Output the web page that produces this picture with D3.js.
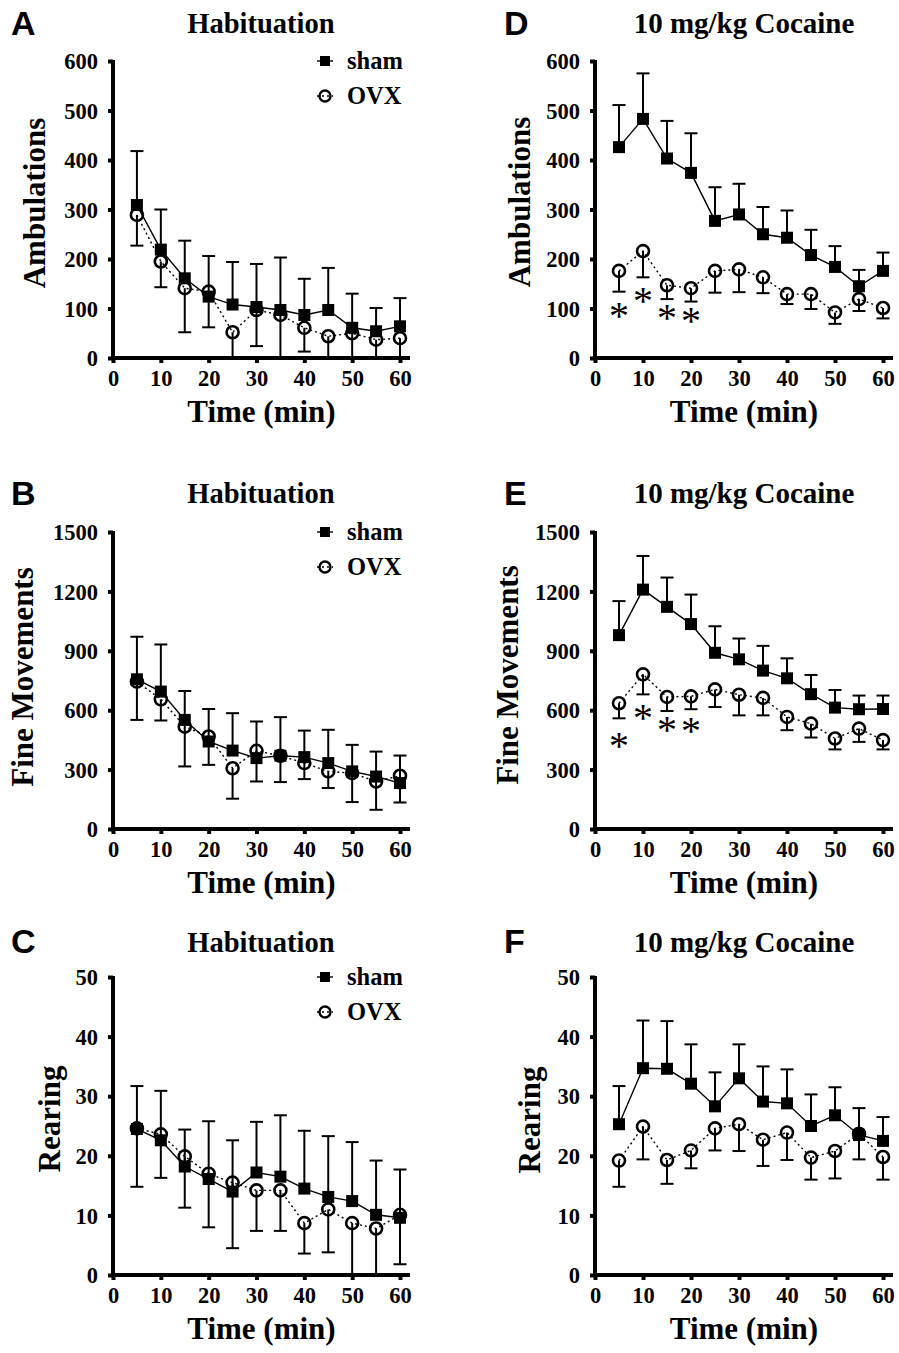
<!DOCTYPE html>
<html>
<head>
<meta charset="utf-8">
<script src="https://cdn.jsdelivr.net/npm/d3@7"></script>
<style>
body { margin: 0; background: #fff; }
</style>
</head>
<body>
<svg id="fig" width="899" height="1353"></svg>
<script>
// time bins (min)
var time = [5, 10, 15, 20, 25, 30, 35, 40, 45, 50, 55, 60]
var xTicks = [0, 10, 20, 30, 40, 50, 60]

// y tick labels
var ambTicks = [0, 100, 200, 300, 400, 500, 600]
var fineTicks = [0, 300, 600, 900, 1200, 1500]
var rearTicks = [0, 10, 20, 30, 40, 50]

// A - ambulations, habituation
var ambHabSham = [309, 219, 161, 124, 108, 103, 97, 87, 97, 61, 54, 64]
var ambHabShamErr = [109, 81, 76, 82, 86, 87, 106, 73, 85, 69, 47, 57]
var ambHabOvx = [289, 195, 141, 134, 52, 97, 87, 61, 44, 50, 37, 40]
var ambHabOvxErr = [62, 52, 89, 72, 60, 73, 95, 48, 50, 55, 45, 45]

// B - fine movements, habituation
var fineHabSham = [756, 694, 551, 442, 396, 358, 370, 363, 333, 291, 265, 232]
var fineHabShamErr = [215, 238, 146, 164, 189, 185, 195, 134, 168, 134, 126, 139]
var fineHabOvx = [744, 655, 517, 467, 307, 395, 370, 333, 291, 282, 240, 269]
var fineHabOvxErr = [193, 107, 201, 143, 154, 155, 133, 81, 84, 146, 143, 135]

// C - rearing, habituation
var rearHabSham = [24.5, 22.6, 18.2, 16.1, 14.0, 17.2, 16.5, 14.5, 13.1, 12.4, 10.1, 9.6]
var rearHabShamErr = [7.2, 8.3, 6.2, 9.7, 8.6, 8.5, 10.3, 9.7, 10.2, 9.9, 9.1, 8.1]
var rearHabOvx = [24.6, 23.6, 19.9, 17.0, 15.5, 14.2, 14.2, 8.7, 11.0, 8.7, 7.8, 10.1]
var rearHabOvxErr = [9.8, 7.3, 8.6, 9.0, 11.0, 6.8, 6.8, 5.1, 7.2, 9.0, 8.0, 8.3]

// D - ambulations, cocaine
var ambCocSham = [426, 483, 403, 374, 277, 290, 250, 243, 208, 184, 145, 176]
var ambCocShamErr = [85, 92, 76, 80, 68, 62, 55, 55, 51, 42, 33, 37]
var ambCocOvx = [176, 216, 147, 141, 176, 179, 163, 129, 129, 92, 119, 101]
var ambCocOvxErr = [42, 53, 28, 27, 44, 46, 32, 20, 30, 23, 24, 21]
var ambStarTime = [5, 10, 15, 20]
var ambStarY = [90, 121, 87, 80]

// E - fine movements, cocaine
var fineCocSham = [979, 1209, 1122, 1035, 890, 857, 800, 761, 681, 613, 605, 606]
var fineCocShamErr = [172, 170, 148, 149, 134, 105, 125, 101, 97, 89, 69, 68]
var fineCocOvx = [635, 781, 667, 670, 705, 678, 662, 566, 532, 457, 507, 449]
var fineCocOvxErr = [76, 101, 71, 65, 89, 104, 88, 67, 70, 55, 67, 47]
var fineStarTime = [5, 10, 15, 20]
var fineStarY = [434, 576, 515, 510]

// F - rearing, cocaine
var rearCocSham = [25.3, 34.7, 34.6, 32.1, 28.3, 33.0, 29.1, 28.8, 25.0, 26.8, 23.5, 22.5]
var rearCocShamErr = [6.4, 8.0, 8.0, 6.6, 5.7, 5.7, 5.9, 5.7, 5.3, 4.7, 4.5, 4.0]
var rearCocOvx = [19.2, 24.9, 19.3, 20.9, 24.6, 25.3, 22.7, 23.9, 19.7, 20.8, 23.7, 19.8]
var rearCocOvxErr = [4.4, 5.5, 4.0, 3.0, 3.7, 4.5, 4.4, 4.6, 3.7, 4.6, 4.3, 3.8]

var serif = "'Liberation Serif', 'Times New Roman', serif"
var sans = "'Liberation Sans', Arial, sans-serif"

// layout of the six panels
var cols = [{left: 113, right: 400, titleX: 261, letterX: 11},
            {left: 595, right: 883, titleX: 744, letterX: 504}]
var rows = [{top: 61, bottom: 358, titleY: 33, letterY: 35},
            {top: 532, bottom: 829, titleY: 503, letterY: 505},
            {top: 977, bottom: 1275, titleY: 952, letterY: 953}]

var panels = [
    {letter: "A", col: 0, row: 0, title: "Habituation", ylab: "Ambulations", ticks: ambTicks,
     sham: ambHabSham, shamErr: ambHabShamErr, ovx: ambHabOvx, ovxErr: ambHabOvxErr, labX: 45, labY: 203, legend: true},
    {letter: "B", col: 0, row: 1, title: "Habituation", ylab: "Fine Movements", ticks: fineTicks,
     sham: fineHabSham, shamErr: fineHabShamErr, ovx: fineHabOvx, ovxErr: fineHabOvxErr, labX: 33, labY: 677, legend: true},
    {letter: "C", col: 0, row: 2, title: "Habituation", ylab: "Rearing", ticks: rearTicks,
     sham: rearHabSham, shamErr: rearHabShamErr, ovx: rearHabOvx, ovxErr: rearHabOvxErr, labX: 60, labY: 1119, legend: true},
    {letter: "D", col: 1, row: 0, title: "10 mg/kg Cocaine", ylab: "Ambulations", ticks: ambTicks,
     sham: ambCocSham, shamErr: ambCocShamErr, ovx: ambCocOvx, ovxErr: ambCocOvxErr, labX: 530, labY: 202,
     starT: ambStarTime, starY: ambStarY},
    {letter: "E", col: 1, row: 1, title: "10 mg/kg Cocaine", ylab: "Fine Movements", ticks: fineTicks,
     sham: fineCocSham, shamErr: fineCocShamErr, ovx: fineCocOvx, ovxErr: fineCocOvxErr, labX: 518, labY: 675,
     starT: fineStarTime, starY: fineStarY},
    {letter: "F", col: 1, row: 2, title: "10 mg/kg Cocaine", ylab: "Rearing", ticks: rearTicks,
     sham: rearCocSham, shamErr: rearCocShamErr, ovx: rearCocOvx, ovxErr: rearCocOvxErr, labX: 540, labY: 1120}
]

var svg = d3.select("#fig")
svg.append("rect").attr("width", 899).attr("height", 1353).attr("fill", "#fff")

panels.forEach(function(p) {
    var c = cols[p.col], r = rows[p.row]
    var g = svg.append("g")

    var x = d3.scaleLinear().domain([0, 60]).range([c.left, c.right])
    var y = d3.scaleLinear().domain([0, d3.max(p.ticks)]).range([r.bottom, r.top])

    // panel letter and title
    g.append("text").attr("x", c.letterX).attr("y", r.letterY)
        .attr("font-family", sans).attr("font-weight", "bold").attr("font-size", 34)
        .text(p.letter)
    g.append("text").attr("x", c.titleX).attr("y", r.titleY).attr("text-anchor", "middle")
        .attr("font-family", serif).attr("font-weight", "bold")
        .attr("font-size", p.col == 0 ? 28.5 : 29)
        .text(p.title)

    // axes
    var xAx = g.append("g").attr("transform", "translate(0," + r.bottom + ")")
        .call(d3.axisBottom(x).tickValues(xTicks).tickSize(5).tickSizeOuter(0).tickPadding(6))
    xAx.select(".domain").attr("d", "M" + (c.left - 2) + ",0H" + (c.right + 10))
    var yAx = g.append("g").attr("transform", "translate(" + c.left + ",0)")
        .call(d3.axisLeft(y).tickValues(p.ticks).tickFormat(d3.format("d"))
            .tickSize(5).tickSizeOuter(0).tickPadding(10))
    yAx.select(".domain").attr("d", "M0," + (r.bottom + 2) + "V" + (r.top - 1))

    g.selectAll(".domain").attr("stroke", "#000").attr("stroke-width", 4)
    g.selectAll(".tick line").attr("stroke", "#000").attr("stroke-width", 4)
    g.selectAll(".tick text").attr("font-family", serif).attr("font-weight", "bold")
        .attr("font-size", 22.5).attr("fill", "#000")
    xAx.selectAll(".tick text").attr("dy", "0.75em")
    yAx.selectAll(".tick text").attr("dy", "0.34em")

    // axis titles
    g.append("text").attr("x", (c.left + c.right + 10) / 2).attr("y", r.bottom + 64)
        .attr("text-anchor", "middle").attr("font-family", serif).attr("font-weight", "bold")
        .attr("font-size", 31).text("Time (min)")
    g.append("text").attr("transform", "translate(" + p.labX + "," + p.labY + ") rotate(-90)")
        .attr("text-anchor", "middle").attr("font-family", serif).attr("font-weight", "bold")
        .attr("font-size", 31).text(p.ylab)

    var sham = time.map(function(t, i) { return {t: t, v: p.sham[i], e: p.shamErr[i]} })
    var ovx = time.map(function(t, i) { return {t: t, v: p.ovx[i], e: p.ovxErr[i]} })

    var line = d3.line().x(function(d) { return x(d.t) }).y(function(d) { return y(d.v) })

    g.append("path").attr("d", line(ovx)).attr("fill", "none").attr("stroke", "#000")
        .attr("stroke-width", 1.4).attr("stroke-dasharray", "2,3")
    g.append("path").attr("d", line(sham)).attr("fill", "none").attr("stroke", "#000")
        .attr("stroke-width", 1.4)

    // error bars: sham up, OVX down
    var cap = 6.5
    sham.forEach(function(d) {
        var yt = y(d.v + d.e)
        g.append("line").attr("x1", x(d.t)).attr("x2", x(d.t)).attr("y1", y(d.v)).attr("y2", yt)
            .attr("stroke", "#000").attr("stroke-width", 2)
        g.append("line").attr("x1", x(d.t) - cap).attr("x2", x(d.t) + cap).attr("y1", yt).attr("y2", yt)
            .attr("stroke", "#000").attr("stroke-width", 2)
    })
    ovx.forEach(function(d) {
        var yb = y(Math.max(0, d.v - d.e))
        g.append("line").attr("x1", x(d.t)).attr("x2", x(d.t)).attr("y1", y(d.v)).attr("y2", yb)
            .attr("stroke", "#000").attr("stroke-width", 2)
        g.append("line").attr("x1", x(d.t) - cap).attr("x2", x(d.t) + cap).attr("y1", yb).attr("y2", yb)
            .attr("stroke", "#000").attr("stroke-width", 2)
    })

    // markers
    g.selectAll(".ovx").data(ovx).enter().append("circle")
        .attr("cx", function(d) { return x(d.t) }).attr("cy", function(d) { return y(d.v) })
        .attr("r", 6).attr("fill", "none").attr("stroke", "#000").attr("stroke-width", 2.6)
    g.selectAll(".sham").data(sham).enter().append("rect")
        .attr("x", function(d) { return x(d.t) - 6 }).attr("y", function(d) { return y(d.v) - 6 })
        .attr("width", 12).attr("height", 12).attr("fill", "#000")

    // significance stars
    if (p.starT) {
        p.starT.forEach(function(t, i) {
            g.append("text").attr("x", x(t)).attr("y", y(p.starY[i]) + 16)
                .attr("text-anchor", "middle").attr("font-family", serif)
                .attr("font-size", 40).text("*")
        })
    }

    // legend
    if (p.legend) {
        var lx = 325, ly = r.top
        g.append("line").attr("x1", lx - 8).attr("x2", lx + 8).attr("y1", ly).attr("y2", ly)
            .attr("stroke", "#000").attr("stroke-width", 1.4)
        g.append("rect").attr("x", lx - 5).attr("y", ly - 5).attr("width", 10).attr("height", 10).attr("fill", "#000")
        g.append("text").attr("x", 347).attr("y", ly + 8).attr("font-family", serif)
            .attr("font-weight", "bold").attr("font-size", 24.5).text("sham")
        g.append("line").attr("x1", lx - 8).attr("x2", lx + 8).attr("y1", ly + 35).attr("y2", ly + 35)
            .attr("stroke", "#000").attr("stroke-width", 1.4).attr("stroke-dasharray", "2,3")
        g.append("circle").attr("cx", lx).attr("cy", ly + 35).attr("r", 5.5)
            .attr("fill", "none").attr("stroke", "#000").attr("stroke-width", 2.4)
        g.append("text").attr("x", 347).attr("y", ly + 43).attr("font-family", serif)
            .attr("font-weight", "bold").attr("font-size", 24.5).text("OVX")
    }
})
</script>
</body>
</html>
